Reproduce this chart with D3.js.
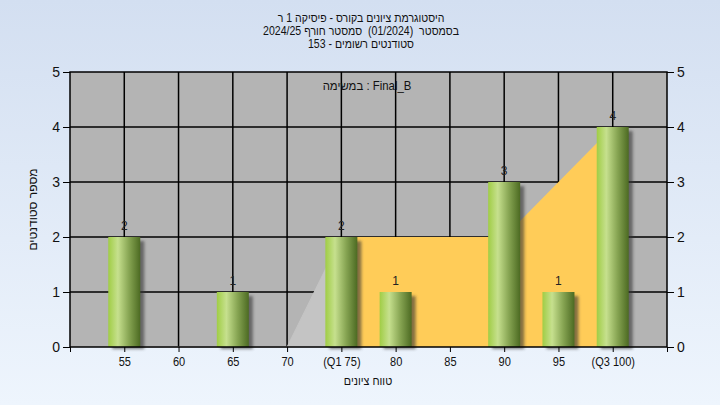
<!DOCTYPE html>
<html><head><meta charset="utf-8">
<script src="https://cdn.jsdelivr.net/npm/d3@7"></script>
<style>html,body{margin:0;padding:0;}svg{display:block;font-family:"Liberation Sans",Arial,sans-serif;}</style>
</head><body>
<svg id="c" width="720" height="405"></svg>
<script>
const titleLines = ["היסטוגרמת ציונים בקורס - פיסיקה 1 ר", "בסמסטר  (01/2024)  סמסטר חורף 2024/25", "סטודנטים רשומים - 153"];
const legendText = "במשימה : Final_B";
const xAxisTitle = "טווח ציונים";
const yAxisTitle = "מספר סטודנטים";
const grades = [55, 60, 65, 70, 75, 80, 85, 90, 95, 100];
const counts = [2, 0, 1, 0, 2, 1, 0, 3, 1, 4];
const tickLabels = ["55", "60", "65", "70", "(Q1 75)", "80", "85", "90", "95", "(Q3 100)"];
const outerX = [55, 60, 65, 70, 75];
const outerY = [0, 0, 0, 0, 2];
const iqrX = [75, 80, 85, 90, 95, 100];
const iqrY = [2, 2, 2, 2, 3, 4];
const yTicks = [0, 1, 2, 3, 4, 5];

const svg = d3.select("#c");
const defs = svg.append("defs");
const bg = defs.append("linearGradient").attr("id", "bg").attr("x1", 0).attr("y1", 0).attr("x2", 0).attr("y2", 1);
bg.append("stop").attr("offset", 0).attr("stop-color", "#d3dff1");
bg.append("stop").attr("offset", 1).attr("stop-color", "#eef5fd");
const bar = defs.append("linearGradient").attr("id", "bar").attr("x1", 0).attr("y1", 0).attr("x2", 1).attr("y2", 0);
[[0, "#a0cd45"], [0.3, "#c6e08e"], [0.65, "#86a452"], [1, "#4c6a22"]].forEach(s => bar.append("stop").attr("offset", s[0]).attr("stop-color", s[1]));
defs.append("filter").attr("id", "blur").attr("x", "-50%").attr("y", "-50%").attr("width", "200%").attr("height", "200%")
  .append("feGaussianBlur").attr("stdDeviation", 1.6);

svg.append("rect").attr("width", 720).attr("height", 405).attr("fill", "url(#bg)");

const L = 70, R = 667, T = 72, B = 347;
const x = d3.scaleLinear().domain([50, 105]).range([L, R]);
const y = d3.scaleLinear().domain([0, 5]).range([B, T]);

function label(parent, str, cx, cy, size, sx) {
  return parent.append("g").attr("transform", `translate(${cx},${cy}) scale(${sx},1)`)
    .append("text").attr("text-anchor", "middle").attr("font-size", size).attr("fill", "#111")
    .style("white-space", "pre").text(str);
}

titleLines.forEach((t, i) => label(svg, t, 361, 22 + i * 13, 12, 0.88));

// plot background
svg.append("rect").attr("x", L).attr("y", T).attr("width", R - L).attr("height", B - T).attr("fill", "#b4b4b4");

// grid
const grid = svg.append("g").attr("stroke", "#000").attr("stroke-width", 1.5);
grid.selectAll("line.v").data(grades).join("line").attr("class", "v")
  .attr("x1", d => x(d)).attr("x2", d => x(d)).attr("y1", T).attr("y2", B);
grid.selectAll("line.h").data([1, 2, 3, 4]).join("line").attr("class", "h")
  .attr("x1", L).attr("x2", R).attr("y1", d => y(d)).attr("y2", d => y(d));

// areas
const area = d3.area().x(d => x(d[0])).y0(y(0)).y1(d => y(d[1]));
svg.append("path").datum(outerX.map((v, i) => [v, outerY[i]])).attr("d", area)
  .attr("fill", "#c4c4c4").attr("stroke", "#c4c4c4").attr("stroke-width", 1);
svg.append("path").datum(iqrX.map((v, i) => [v, iqrY[i]])).attr("d", area).attr("fill", "#ffcc58");

// legend
label(svg, legendText, 367, 90, 12, 0.95);

// bars
const data = grades.map((g, i) => ({ g, c: counts[i] })).filter(d => d.c > 0);
const bw = 32;
const bars = svg.append("g");
bars.selectAll("rect.sh").data(data).join("rect").attr("class", "sh")
  .attr("x", d => x(d.g) - bw / 2 + 4).attr("y", d => y(d.c) + 4).attr("width", bw).attr("height", d => y(0) - y(d.c) - 2)
  .attr("fill", "#333").attr("opacity", 0.6).attr("filter", "url(#blur)");
bars.selectAll("rect.b").data(data).join("rect").attr("class", "b")
  .attr("x", d => x(d.g) - bw / 2).attr("y", d => y(d.c)).attr("width", bw).attr("height", d => y(0) - y(d.c))
  .attr("fill", "url(#bar)");
bars.selectAll("text").data(data).join("text")
  .attr("x", d => x(d.g)).attr("y", d => y(d.c) - 7).attr("text-anchor", "middle").attr("font-size", 12)
  .attr("fill", "#222").text(d => d.c);

// plot border
svg.append("rect").attr("x", L).attr("y", T).attr("width", R - L).attr("height", B - T)
  .attr("fill", "none").attr("stroke", "#000").attr("stroke-width", 1.5);

// axes
const fmtX = d => { const i = grades.indexOf(d); return i >= 0 ? tickLabels[i] : ""; };
const xAxis = d3.axisBottom(x).tickValues([50].concat(grades, [105])).tickSize(5).tickPadding(5).tickFormat(fmtX);
const gx = svg.append("g").attr("transform", `translate(0,${B})`).call(xAxis);
gx.select(".domain").remove();
gx.selectAll("text").attr("font-size", 12).attr("fill", "#111").attr("font-family", "Liberation Sans, Arial, sans-serif")
  .attr("transform", "scale(0.92,1)");
gx.selectAll("line").attr("stroke", "#000");

const yl = svg.append("g").attr("transform", `translate(${L},0)`).call(d3.axisLeft(y).tickValues(yTicks).tickSize(7).tickPadding(3).tickFormat(d3.format("d")));
const yr = svg.append("g").attr("transform", `translate(${R},0)`).call(d3.axisRight(y).tickValues(yTicks).tickSize(7).tickPadding(3).tickFormat(d3.format("d")));
[yl, yr].forEach(g => {
  g.select(".domain").remove();
  g.selectAll("text").attr("font-size", 14).attr("fill", "#111").attr("font-family", "Liberation Sans, Arial, sans-serif");
  g.selectAll("line").attr("stroke", "#000");
});

// axis titles
label(svg, xAxisTitle, 368, 385, 12, 0.9);
svg.append("text").attr("transform", `translate(37,${(T + B) / 2}) rotate(-90)`).attr("text-anchor", "middle")
  .attr("font-size", 12).attr("fill", "#111").text(yAxisTitle);
</script>
</body></html>
